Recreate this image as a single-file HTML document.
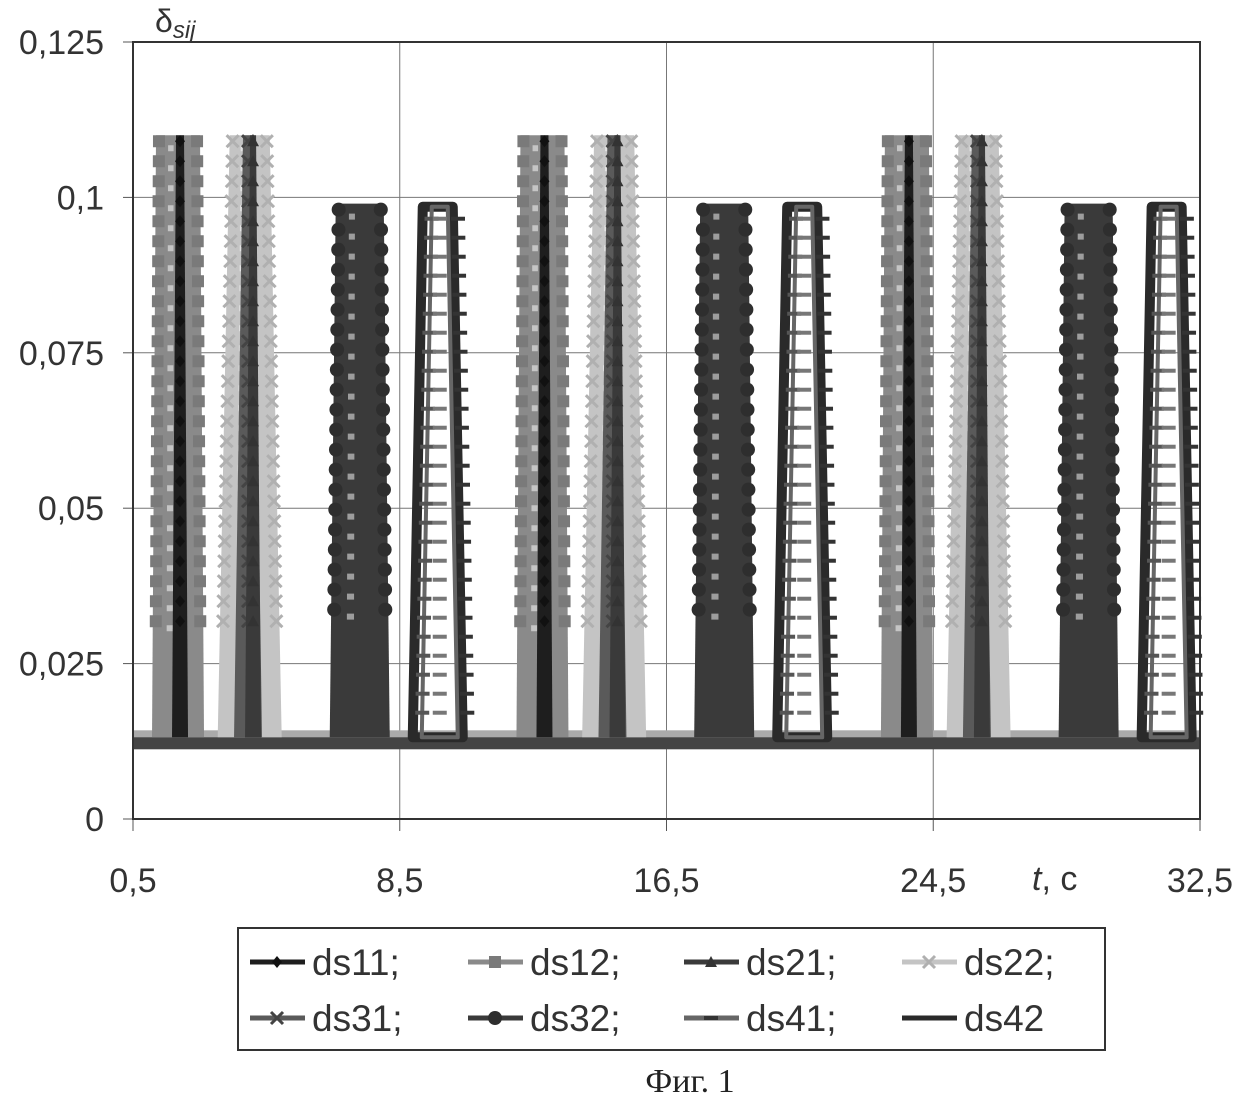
<!DOCTYPE html>
<html><head><meta charset="utf-8"><style>
html,body{margin:0;padding:0;background:#fff;}
svg{display:block;font-family:"Liberation Sans",sans-serif;}
</style></head><body>
<svg id="chart" width="1238" height="1098" viewBox="0 0 1238 1098" xmlns="http://www.w3.org/2000/svg">
<g id="grid"></g>
<g id="plot"></g>
<g id="axes"></g>
<text x="155" y="32" font-size="32" fill="#333">δ<tspan font-size="24" font-style="italic" dy="6">sij</tspan></text>
<text x="1032" y="890" font-size="34" fill="#333"><tspan font-style="italic">t</tspan>, с</text>
<g id="legend">
<rect x="238" y="928" width="867" height="122" fill="#fff" stroke="#333" stroke-width="2"/>
</g>
<text x="690" y="1092" font-size="34" text-anchor="middle" font-family="'Liberation Serif',serif" fill="#222">Фиг. 1</text>
</svg>
<script>
const seriesNames=["ds11","ds12","ds21","ds22","ds31","ds32","ds41","ds42"];
const spikeCenters=[1.91,1.85,4.1,4.0,3.95,7.3,9.7,9.64];
const spikePeaks=[0.110,0.110,0.110,0.110,0.110,0.099,0.0985,0.0985];
const period=[10.93];
const baseline=[0.0125];
const yTicks=[0,0.025,0.05,0.075,0.1,0.125];
const yTickLabels=["0","0,025","0,05","0,075","0,1","0,125"];
const xTicks=[0.5,8.5,16.5,24.5,32.5];
const xTickLabels=["0,5","8,5","16,5","24,5","32,5"];

const L=133,R=1200,T=42,B=819;
const X=t=>L+(t-0.5)/32*(R-L);
const Y=v=>B-v/0.125*(B-T);
const NS="http://www.w3.org/2000/svg";
function mk(tag,attrs,parent){const e=document.createElementNS(NS,tag);for(const k in attrs)e.setAttribute(k,attrs[k]);parent.appendChild(e);return e;}
const grid=document.getElementById('grid'),plot=document.getElementById('plot'),axes=document.getElementById('axes'),legend=document.getElementById('legend');

yTicks.forEach((v,i)=>{
 if(v>0&&v<0.125){const g=mk('line',{x1:L,x2:R,y1:Y(v),y2:Y(v),stroke:'#777','stroke-width':1},grid);
 
 }
 const tk=mk('line',{x1:L-10,x2:L,y1:Y(v),y2:Y(v),stroke:'#555','stroke-width':1},axes);
 
 
 const t=mk('text',{x:104,y:Y(v)+12,'font-size':34,'text-anchor':'end',fill:'#333'},axes);t.textContent=yTickLabels[i];
 
 
});
xTicks.forEach((v,i)=>{
 if(v>0.5&&v<32.5){const g=mk('line',{x1:X(v),x2:X(v),y1:T,y2:B,stroke:'#777','stroke-width':1},grid);
 
 }
 const tk=mk('line',{x1:X(v),x2:X(v),y1:B,y2:B+12,stroke:'#555','stroke-width':1},axes);
 
 
 const t=mk('text',{x:X(v),y:892,'font-size':34,'text-anchor':'middle',fill:'#333'},axes);t.textContent=xTickLabels[i];
 
 
});
const frame=mk('rect',{x:L,y:T,width:R-L,height:B-T,fill:'none',stroke:'#333','stroke-width':2},axes);



const b1=mk('rect',{x:L,y:Y(baseline[0])-11,width:R-L,height:8,fill:'#aaa'},plot);


const b2=mk('rect',{x:L,y:Y(baseline[0])-4,width:R-L,height:12,fill:'#444'},plot);



const styles={
 ds12:{fill:'#8a8a8a',bw:26,tw:22,mk:'sq',mc:'#7a7a7a'},
 ds22:{fill:'#c4c4c4',bw:32,tw:20,mk:'x',mc:'#b0b0b0'},
 ds32:{fill:'#3a3a3a',bw:30,tw:24,mk:'circ',mc:'#2e2e2e'},
 ds31:{fill:'#5a5a5a',bw:14,tw:5,mk:'x',mc:'#444'},
 ds11:{fill:'#1e1e1e',bw:8,tw:4,mk:'dia',mc:'#111'},
 ds21:{fill:'#3a3a3a',bw:8,tw:3,mk:'tri',mc:'#333'},
 ds42:{line:true,col:'#2a2a2a',bw:25,tw:15,sw:10,mk:'none'},
 ds41:{line:true,col:'#666',bw:18,tw:8,sw:4,mk:'plus'}
};
const order=["ds12","ds22","ds32","ds31","ds11","ds21","ds42","ds41"];
function marker(kind,cx,cy,c,g){
 if(kind==='sq')mk('rect',{x:cx-6,y:cy-6,width:12,height:12,fill:c},g);
 else if(kind==='circ')mk('circle',{cx,cy,r:7,fill:c},g);
 else if(kind==='dia')mk('polygon',{points:`${cx},${cy-6} ${cx+5},${cy} ${cx},${cy+6} ${cx-5},${cy}`,fill:c},g);
 else if(kind==='tri')mk('polygon',{points:`${cx},${cy-6} ${cx+6},${cy+5} ${cx-6},${cy+5}`,fill:c},g);
 else if(kind==='x'){mk('path',{d:`M${cx-6} ${cy-6}L${cx+6} ${cy+6}M${cx+6} ${cy-6}L${cx-6} ${cy+6}`,stroke:c,'stroke-width':3},g);}
 else if(kind==='plus'){mk('path',{d:`M${cx-7} ${cy}H${cx+7}`,stroke:c,'stroke-width':4},g);}
}
order.forEach(name=>{
 const i=seriesNames.indexOf(name),s=styles[name];
 for(let k=0;k<3;k++){
  const t=spikeCenters[i]+k*period[0];
  const cx=X(t),yb=Y(baseline[0])-4,yp=Y(spikePeaks[i]);
  const g=mk('g',{},plot);
  
  
  if(s.line){
   mk('polygon',{points:`${cx-s.bw},${yb} ${cx-s.tw},${yp} ${cx+s.tw},${yp} ${cx+s.bw},${yb}`,fill:'none',stroke:s.col,'stroke-width':s.sw,'stroke-linejoin':'round'},g);
   if(s.mk==='plus'){for(let y=yp+12;y<yb-6;y+=19){const f=(y-yp)/(yb-yp);const hw=s.tw+(s.bw-s.tw)*f;marker('plus',cx+hw+10,y,'#333',g);marker('plus',cx-hw,y,'#555',g);marker('plus',cx,y,'#777',g);}}
  } else {
   mk('polygon',{points:`${cx-s.bw},${yb} ${cx-s.tw},${yp} ${cx+s.tw},${yp} ${cx+s.bw},${yb}`,fill:s.fill},g);
   for(let y=yp+6;y<yb-110;y+=20){const f=(y-yp)/(yb-yp);const hw=s.tw+(s.bw-s.tw)*f;
    if(s.bw>20){marker(s.mk,cx-hw+3,y,s.mc,g);marker(s.mk,cx+hw-3,y,s.mc,g);mk('rect',{x:cx-hw*0.45,y:y+4,width:hw*0.25,height:6,fill:'#fff',opacity:0.5},g);}
    else marker(s.mk,cx,y,s.mc,g);}
  }
 }
});

const legX=[250,468,684,902],legY=[962,1018];
seriesNames.forEach((n,i)=>{
 const s=styles[n];const x=legX[i%4],y=legY[Math.floor(i/4)];
 const g=mk('g',{},legend);
 
 
 const col=s.line?s.col:s.fill;
 mk('line',{x1:x,x2:x+55,y1:y,y2:y,stroke:col,'stroke-width':5},g);
 if(s.mk!=='none')marker(s.mk,x+27,y,s.line?'#333':s.mc,g);
 const t=mk('text',{x:x+62,y:y+13,'font-size':37,fill:'#333'},g);
 t.textContent=n+(i<7?';':'');
});
</script>
</body></html>
